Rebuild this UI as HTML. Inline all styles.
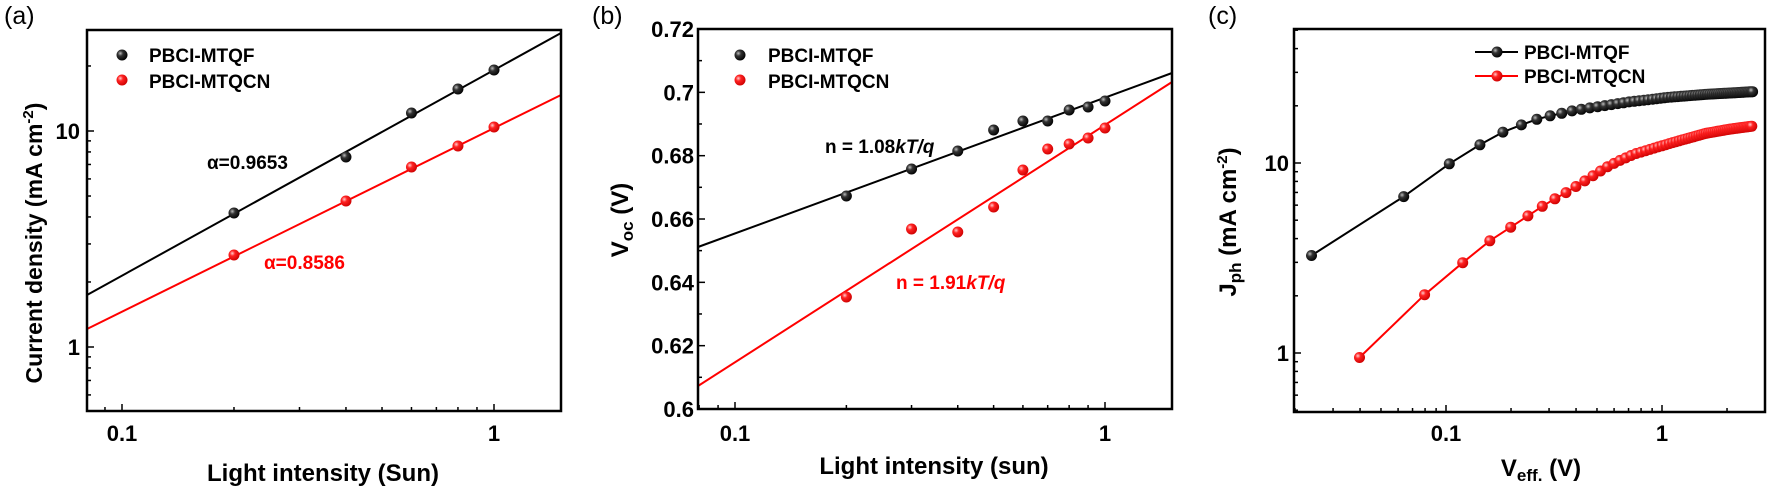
<!DOCTYPE html>
<html><head><meta charset="utf-8"><style>
html,body{margin:0;padding:0;background:#fff;}
svg{display:block;font-family:"Liberation Sans",Arial,sans-serif;}
</style></head><body>
<svg id="s" width="1769" height="490" viewBox="0 0 1769 490" xmlns="http://www.w3.org/2000/svg">
<defs>
<radialGradient id="gk" cx="0.35" cy="0.35" r="0.7"><stop offset="0" stop-color="#bbb"/><stop offset="0.35" stop-color="#333"/><stop offset="1" stop-color="#000"/></radialGradient>
<radialGradient id="gr" cx="0.35" cy="0.35" r="0.7"><stop offset="0" stop-color="#fcc"/><stop offset="0.35" stop-color="#f22"/><stop offset="1" stop-color="#c00"/></radialGradient>
</defs>
<g id="g"></g>
<text x="4" y="24" font-size="25">(a)</text>
<text x="592" y="24" font-size="25">(b)</text>
<text x="1208" y="24" font-size="25">(c)</text>
<g font-weight="bold" font-size="19">
<text x="149" y="62">PBCI-MTQF</text><text x="149" y="88">PBCI-MTQCN</text>
<text x="768" y="62">PBCI-MTQF</text><text x="768" y="88">PBCI-MTQCN</text>
<text x="1524" y="59">PBCI-MTQF</text><text x="1524" y="83">PBCI-MTQCN</text>
<text x="207" y="169">α=0.9653</text><text x="264" y="269" fill="#f00">α=0.8586</text>
<text x="825" y="153">n = 1.08<tspan font-style="italic">kT/q</tspan></text>
<text x="896" y="289" fill="#f00">n = 1.91<tspan font-style="italic">kT/q</tspan></text>
</g>
<g font-weight="bold" font-size="22">
<text x="323" y="481" text-anchor="middle" font-size="24">Light intensity (Sun)</text>
<text x="934" y="474" text-anchor="middle" font-size="24">Light intensity (sun)</text>
<text x="1541" y="476" text-anchor="middle" font-size="24">V<tspan font-size="17" dy="5">eff.</tspan><tspan dy="-5"> (V)</tspan></text>
<text transform="translate(42,243) rotate(-90)" text-anchor="middle" font-size="23">Current density (mA cm<tspan font-size="15" dy="-9">-2</tspan><tspan dy="9">)</tspan></text>
<text transform="translate(628,220) rotate(-90)" text-anchor="middle" font-size="24">V<tspan font-size="17" dy="5">oc</tspan><tspan dy="-5"> (V)</tspan></text>
<text transform="translate(1236,222) rotate(-90)" text-anchor="middle" font-size="24">J<tspan font-size="17" dy="5">ph</tspan><tspan dy="-5"> (mA cm</tspan><tspan font-size="15" dy="-9">-2</tspan><tspan dy="9">)</tspan></text>
</g>
</svg>
<script>
var G=document.getElementById('g'),h='';
function L(x1,y1,x2,y2,c,w){h+='<line x1="'+x1+'" y1="'+y1+'" x2="'+x2+'" y2="'+y2+'" stroke="'+(c||'#000')+'" stroke-width="'+(w||2)+'"/>';}
function M(x,y,r){h+='<circle cx="'+x+'" cy="'+y+'" r="5.5" fill="url(#g'+(r?'r':'k')+')"/>';}
function T(x,y,t,a){h+='<text x="'+x+'" y="'+y+'" font-weight="bold" font-size="22" text-anchor="'+(a||'middle')+'">'+t+'</text>';}
function box(l,t,r,b){h+='<rect x="'+l+'" y="'+t+'" width="'+(r-l)+'" height="'+(b-t)+'" fill="none" stroke="#000" stroke-width="2.5"/>';}
function logx(l,r,x01,dec,lo,hi,b){for(var d=lo;d<=hi;d++)for(var m=1;m<10;m++){var x=x01+dec*(d+Math.log10(m));if(x>l+1&&x<r-1)L(x,b,x,b-(m==1?7:4),'#000',1.5);}}
function logy(t,b,y1,dec,lo,hi,l){for(var d=lo;d<=hi;d++)for(var m=1;m<10;m++){var y=y1-dec*(d+Math.log10(m));if(y>t+1&&y<b-1)L(l,y,l+(m==1?7:4),y,'#000',1.5);}}
// panel a
logx(87,561,122,372,-2,1,411);logy(30,411,347,216,-1,2,87);
T(122,441,'0.1');T(494,441,'1');T(80,139,'10','end');T(80,355,'1','end');
L(87,295,561,33,'#000',2);L(87,329,561,95,'#f00',2);
var xs=[.2,.4,.6,.8,1],yb=[213,157,113,89,70],yr=[255,201,167,146,127];
for(var i=0;i<5;i++){var x=122+372*(1+Math.log10(xs[i]));M(x,yb[i]);M(x,yr[i],1);}
M(122,55);M(122,80,1);
box(87,30,561,411);
// panel b
logx(698,1172,735,370,-2,1,409);
for(var v=0;v<=6;v++){var y=409-v*63.33;L(698,y,705,y,'#000',1.5);if(v<6)L(698,y-31.7,702,y-31.7,'#000',1.5);T(694,y+8,['0.6','0.62','0.64','0.66','0.68','0.7','0.72'][v],'end');}
T(735,441,'0.1');T(1105,441,'1');
L(698,247,1172,73,'#000',2);L(698,386,1172,82,'#f00',2);
var bx=[.2,.3,.4,.5,.6,.7,.8,.9,1],byb=[196,169,151,130,121,121,110,107,101],byr=[297,229,232,207,170,149,144,138,128];
for(i=0;i<9;i++){x=735+370*(1+Math.log10(bx[i]));M(x,byb[i]);M(x,byr[i],1);}
M(740,55);M(740,80,1);
box(698,29,1172,409);
// panel c
logx(1294,1765,1446,216,-3,1,412);logy(29,412,353,190,-1,2,1294);
T(1446,441,'0.1');T(1662,441,'1');T(1289,171,'10','end');T(1289,361,'1','end');
function interp(a,x){for(var k=0;k<a.length-1;k++){if(x<=a[k+1][0]){var f=(x-a[k][0])/(a[k+1][0]-a[k][0]);return a[k][1]+f*(a[k+1][1]-a[k][1]);}}return a[a.length-1][1];}
var ak=[[345,770],[595,590],[716,492],[800,433],[858,397],[908,375],[952,357],[986,347],[1016,340],[1042,333],[1100,322],[1200,305],[1300,292],[1400,283],[1525,275]];
var ar=[[480,1070],[653,882],[756,785],[825,722],[880,682],[927,647],[963,620],[997,597],[1027,578],[1053,560],[1077,543],[1098,528],[1118,514],[1138,500],[1170,482],[1210,462],[1260,445],[1320,425],[1400,400],[1460,388],[1525,378]];
function series(a,v0,red){var pts=[];for(var V=v0;V<=2.64;V+=0.04){var zx=707+576*(Math.log10(V)+1);var zy=interp(a,zx);pts.push([1180+zx/2.662,zy/3]);}
h+='<polyline fill="none" stroke="'+(red?'#f00':'#000')+'" stroke-width="2" points="'+pts.map(function(p){return p[0].toFixed(1)+','+p[1].toFixed(1)}).join(' ')+'"/>';
pts.forEach(function(p){M(p[0].toFixed(1),p[1].toFixed(1),red);});}
series(ak,0.024,0);series(ar,0.04,1);
L(1475,52,1518,52,'#000',2);M(1497,52);L(1475,76,1518,76,'#f00',2);M(1497,76,1);
box(1294,29,1765,412);
G.innerHTML=h;
</script>
</body></html>
